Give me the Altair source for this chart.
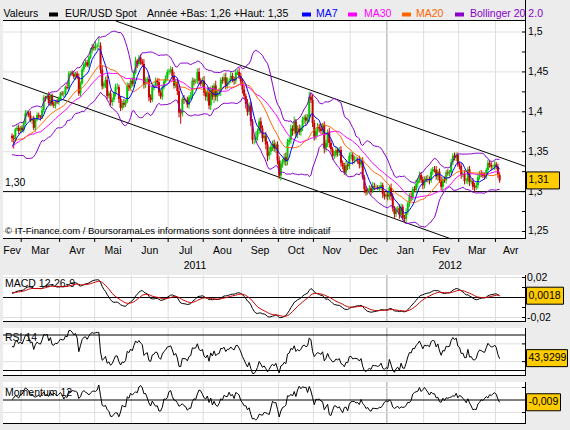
import altair as alt
import numpy as np
import pandas as pd

# ---------------------------------------------------------------------------
# EUR/USD daily closes. The Jan/Feb 2011 lead-in only feeds the moving
# averages and oscillators; drawing starts on Monday 21 Feb 2011.
# ---------------------------------------------------------------------------
CLOSE_LEAD_IN = [
    1.3358, 1.3318, 1.3148, 1.3002, 1.2907, 1.2967, 1.2972, 1.3136, 1.3362, 1.3382,
    1.3310, 1.3390, 1.3460, 1.3530, 1.3610, 1.3620, 1.3680, 1.3710, 1.3740, 1.3590,
    1.3700,
    1.3805, 1.3820, 1.3650, 1.3580, 1.3600, 1.3660, 1.3680, 1.3580, 1.3540, 1.3480,
    1.3500, 1.3550, 1.3590, 1.3700,
]

CLOSE = [
    # Feb 2011
    1.3670, 1.3660, 1.3780, 1.3800, 1.3760, 1.3800,
    # Mar
    1.3770, 1.3860, 1.3980, 1.3990, 1.3960, 1.3890, 1.3910, 1.3800, 1.3900, 1.3960,
    1.3940, 1.3930, 1.4020, 1.4180, 1.4170, 1.4200, 1.4110, 1.4200, 1.4090, 1.4080,
    1.4130, 1.4120, 1.4170,
    # Apr
    1.4230, 1.4220, 1.4220, 1.4310, 1.4300, 1.4480, 1.4490, 1.4470, 1.4440, 1.4480,
    1.4430, 1.4230, 1.4360, 1.4530, 1.4600, 1.4620, 1.4580, 1.4680, 1.4770, 1.4810,
    1.4800,
    # May
    1.4820, 1.4830, 1.4830, 1.4530, 1.4320, 1.4350, 1.4400, 1.4200, 1.4230, 1.4120,
    1.4150, 1.4230, 1.4310, 1.4310, 1.4160, 1.4050, 1.4110, 1.4090, 1.4130, 1.4330,
    1.4300, 1.4390,
    # Jun
    1.4350, 1.4490, 1.4640, 1.4600, 1.4680, 1.4630, 1.4600, 1.4340, 1.4390, 1.4410,
    1.4180, 1.4150, 1.4310, 1.4330, 1.4390, 1.4370, 1.4240, 1.4190, 1.4310, 1.4380,
    1.4420, 1.4500,
    # Jul
    1.4510, 1.4530, 1.4450, 1.4330, 1.4370, 1.4260, 1.3990, 1.3980, 1.4160, 1.4150,
    1.4150, 1.4090, 1.4180, 1.4200, 1.4390, 1.4380, 1.4390, 1.4500, 1.4390, 1.4350,
    1.4390,
    # Aug
    1.4240, 1.4190, 1.4250, 1.4080, 1.4280, 1.4190, 1.4330, 1.4190, 1.4240, 1.4250,
    1.4400, 1.4390, 1.4430, 1.4330, 1.4390, 1.4390, 1.4450, 1.4410, 1.4390, 1.4490,
    1.4500, 1.4450, 1.4380,
    # Sep
    1.4280, 1.4200, 1.4100, 1.4000, 1.4080, 1.3880, 1.3650, 1.3650, 1.3690, 1.3760,
    1.3880, 1.3790, 1.3670, 1.3700, 1.3590, 1.3450, 1.3500, 1.3560, 1.3600, 1.3540,
    1.3590, 1.3390,
    # Oct
    1.3200, 1.3350, 1.3370, 1.3430, 1.3380, 1.3620, 1.3650, 1.3790, 1.3760, 1.3880,
    1.3730, 1.3790, 1.3750, 1.3800, 1.3900, 1.3930, 1.3890, 1.3920, 1.4190, 1.4150,
    1.3860,
    # Nov
    1.3690, 1.3760, 1.3810, 1.3790, 1.3760, 1.3830, 1.3540, 1.3610, 1.3750, 1.3610,
    1.3530, 1.3450, 1.3460, 1.3520, 1.3490, 1.3520, 1.3360, 1.3320, 1.3240, 1.3330,
    1.3320, 1.3450,
    # Dec
    1.3460, 1.3390, 1.3400, 1.3400, 1.3390, 1.3340, 1.3380, 1.3180, 1.3030, 1.2990,
    1.3020, 1.3040, 1.3010, 1.3070, 1.3060, 1.3060, 1.3040, 1.3050, 1.3080, 1.2970,
    1.2940, 1.2960,
    # Jan 2012
    1.2940, 1.3050, 1.2940, 1.2790, 1.2720, 1.2770, 1.2790, 1.2710, 1.2810, 1.2670,
    1.2660, 1.2740, 1.2850, 1.2940, 1.2930, 1.3030, 1.3020, 1.3100, 1.3140, 1.3210,
    1.3150, 1.3080,
    # Feb
    1.3160, 1.3150, 1.3160, 1.3140, 1.3250, 1.3280, 1.3270, 1.3190, 1.3250, 1.3140,
    1.3060, 1.3150, 1.3140, 1.3240, 1.3230, 1.3240, 1.3370, 1.3450, 1.3420, 1.3460,
    1.3340,
    # Mar
    1.3320, 1.3210, 1.3220, 1.3130, 1.3130, 1.3280, 1.3120, 1.3130, 1.3060, 1.3050,
    1.3080, 1.3180, 1.3230, 1.3220, 1.3200, 1.3190, 1.3270, 1.3360, 1.3330, 1.3310,
    1.3310, 1.3340,
    # Apr
    1.3310, 1.3210, 1.3140,
]

# Upper / lower shadows beyond the candle body, in units of 0.001
WICK_UP = [
    3, 4, 2, 3, 4, 2,
    3, 2, 4, 3, 2, 5, 3, 4, 2, 3, 3, 2, 4, 3, 2, 3, 5, 2, 3, 4, 2, 3, 2,
    2, 3, 4, 2, 5, 3, 2, 3, 4, 2, 3, 5, 2, 3, 2, 4, 3, 2, 3, 4, 3,
    6, 3, 11, 4, 5, 3, 4, 6, 3, 4, 3, 2, 4, 5, 3, 4, 3, 5, 2, 4, 3, 2,
    4, 3, 5, 2, 3, 4, 3, 6, 4, 3, 5, 4, 3, 2, 4, 3, 5, 3, 2, 3, 4, 3,
    3, 4, 3, 5, 4, 3, 6, 4, 3, 5, 2, 4, 3, 5, 4, 3, 2, 4, 5, 3, 4,
    6, 4, 5, 6, 4, 5, 3, 6, 4, 5, 3, 4, 5, 6, 4, 3, 5, 4, 3, 4, 3, 5, 4,
    4, 5, 3, 6, 4, 5, 3, 4, 6, 3, 4, 5, 4, 3, 5, 4, 6, 3, 4, 5, 3, 4,
    5, 4, 4, 5, 6, 4, 3, 5, 4, 6, 3, 4, 5, 3, 4, 3, 4, 5, 6, 4, 7,
    4, 3, 5, 4, 6, 3, 5, 4, 3, 5, 4, 3, 5, 4, 3, 4, 5, 3, 4, 6, 3, 4,
    4, 3, 5, 4, 3, 6, 4, 5, 3, 4, 3, 4, 3, 5, 4, 3, 2, 3, 4, 3, 4, 3,
    4, 3, 5, 4, 3, 4, 3, 5, 4, 3, 4, 5, 3, 4, 5, 3, 4, 5, 3, 4, 3, 4,
    3, 4, 5, 3, 4, 3, 4, 5, 3, 4, 5, 3, 4, 3, 4, 3, 4, 3, 4, 3, 3,
    3, 4, 3, 5, 4, 3, 4, 3, 4, 5, 3, 4, 3, 4, 3, 4, 3, 4, 3, 4, 3, 4,
    3, 4, 3,
]
WICK_DN = [
    5, 12, 3, 2, 4, 3,
    2, 3, 2, 4, 3, 2, 4, 3, 5, 2, 3, 4, 2, 3, 4, 2, 3, 4, 2, 3, 4, 2, 3,
    3, 2, 4, 3, 2, 4, 3, 2, 3, 4, 2, 3, 4, 2, 3, 4, 2, 3, 2, 4, 3,
    3, 4, 2, 5, 4, 3, 5, 4, 3, 4, 5, 3, 4, 3, 5, 4, 3, 4, 3, 2, 4, 3,
    3, 4, 2, 5, 3, 4, 3, 5, 4, 3, 5, 4, 3, 4, 3, 5, 4, 3, 4, 3, 2, 3,
    4, 3, 5, 4, 3, 5, 6, 13, 4, 5, 3, 4, 5, 3, 4, 5, 3, 4, 5, 3, 4,
    4, 5, 6, 5, 6, 4, 8, 5, 6, 4, 5, 4, 3, 5, 4, 5, 3, 4, 5, 4, 3, 4, 5,
    5, 4, 6, 5, 4, 6, 5, 6, 4, 5, 4, 6, 5, 4, 6, 7, 5, 4, 5, 4, 6, 5,
    4, 6, 5, 4, 6, 5, 4, 5, 6, 4, 5, 6, 4, 5, 4, 5, 6, 4, 5, 4, 5,
    5, 4, 6, 5, 4, 5, 6, 4, 5, 6, 4, 5, 4, 3, 5, 4, 5, 4, 3, 4, 5, 4,
    4, 5, 4, 3, 4, 5, 4, 3, 5, 4, 3, 4, 5, 3, 4, 3, 2, 4, 3, 5, 4, 3,
    5, 4, 5, 4, 5, 4, 3, 5, 4, 3, 5, 4, 3, 4, 5, 4, 3, 4, 5, 3, 4, 5,
    4, 3, 4, 5, 3, 4, 3, 4, 5, 3, 4, 5, 3, 4, 3, 4, 3, 4, 3, 4, 3,
    4, 5, 3, 4, 3, 4, 5, 3, 4, 5, 3, 4, 3, 4, 3, 4, 3, 4, 3, 4, 3, 4,
    3, 4, 3,
]

MONTHS_FR = ["Jan", "Fev", "Mar", "Avr", "Mai", "Jun",
             "Jul", "Aou", "Sep", "Oct", "Nov", "Dec"]
PRICE_LABELS = [1.25, 1.3, 1.35, 1.4, 1.45, 1.5]
PRICE_MINOR = [1.275, 1.325, 1.375, 1.425, 1.475]
PRICE_GRID = [1.25, 1.35, 1.4, 1.45, 1.5]
PRICE_SUPPORT = [1.30]
MACD_TICKS = [-0.02, -0.01, 0.0, 0.01, 0.02]
MACD_LABELS = [-0.02, 0.02]
MACD_GRID = [-0.02, 0.02]
RSI_BANDS = [30, 70]
RSI_TICKS = [40, 60]
MOM_TICKS = [-0.05, 0.05]
CHANNEL_TOP = {"i": [60.0, 300.0], "p": [1.5154, 1.3371]}
CHANNEL_BOTTOM = {"i": [-5.0, 260.0], "p": [1.4419, 1.2429]}
MACD_LAST = 0.0018
RSI_LAST = 43.9299
MOM_LAST = -0.009

# ---------------------------------------------------------------------------
# layout (pixels) and styling
# ---------------------------------------------------------------------------
W, H = 570, 430
PLOT_L, PLOT_R = 3, 526
AXIS_X = 525.5
MAIN = (21, 239)
MACD_P = (275, 322)
RSI_P = (328, 375.5)
MOM_P = (382, 424)

X_DOMAIN = [-5.4, 307.8]
P_DOMAIN = [1.2406, 1.5138]
MACD_DOMAIN = [-0.0245, 0.0225]
RSI_DOMAIN = [24.37, 77.89]
MOM_DOMAIN = [-0.096, 0.072]

FONT = "Liberation Sans"
FS = 10.5
BG = "#ECECEC"
GRID = "#DEDEDE"
YEAR_LINE = "#A0A0A0"
UP = "#00C800"
DOWN = "#CC0000"
C_MA7 = "#0000FF"
C_MA30 = "#FF00FF"
C_MA20 = "#FF6600"
C_BOLL = "#8800CC"
GOLD = "#FFCC00"

# ---------------------------------------------------------------------------
# indicators
# ---------------------------------------------------------------------------
close = pd.Series(CLOSE_LEAD_IN + CLOSE, dtype=float)
full = pd.DataFrame({"date": pd.bdate_range("2011-01-03", periods=len(close)),
                     "close": close})
full["open"] = full["close"].shift(1).fillna(full["close"])
full["ma7"] = full["close"].rolling(7, min_periods=1).mean()
full["ma20"] = full["close"].rolling(20, min_periods=1).mean()
full["ma30"] = full["close"].rolling(30, min_periods=1).mean()
sd20 = full["close"].rolling(20, min_periods=2).std(ddof=0)
full["bb_hi"] = full["ma20"] + 2 * sd20
full["bb_lo"] = full["ma20"] - 2 * sd20
ema12 = full["close"].ewm(span=12, adjust=False).mean()
ema26 = full["close"].ewm(span=26, adjust=False).mean()
full["macd"] = ema12 - ema26
full["signal"] = full["macd"].ewm(span=9, adjust=False).mean()
delta = full["close"].diff().fillna(0)
gain = delta.clip(lower=0).ewm(alpha=1 / 14, adjust=False).mean()
loss = (-delta.clip(upper=0)).ewm(alpha=1 / 14, adjust=False).mean()
full["rsi"] = 100 - 100 / (1 + gain / loss)
full["mom"] = full["close"] - full["close"].shift(12)

df = full.iloc[len(CLOSE_LEAD_IN):].reset_index(drop=True)
df["i"] = np.arange(len(df))
df["high"] = np.maximum(df["open"], df["close"]) + np.array(WICK_UP) / 1000
df["low"] = np.minimum(df["open"], df["close"]) - np.array(WICK_DN) / 1000
ups = df[df["close"] >= df["open"]]
downs = df[df["close"] < df["open"]]

# month cells, month boundaries and year spans
ym = df["date"].dt.year * 100 + df["date"].dt.month
starts = df.groupby(ym)["i"].min()
keys = list(starts.index)
edges = np.concatenate([[X_DOMAIN[0]], starts.values[1:] - 0.5, [X_DOMAIN[1]]])
months = pd.DataFrame({"label": [MONTHS_FR[k % 100 - 1] for k in keys],
                       "pos": (edges[:-1] + edges[1:]) / 2})
bounds = pd.DataFrame({"b": starts.values[1:] - 0.5,
                       "jan": [k % 100 == 1 for k in keys[1:]]})
month_bounds = bounds[~bounds["jan"]]
year_bounds = bounds[bounds["jan"]]
years = []
yr = df["date"].dt.year
ylist = sorted(yr.unique())
for n, y in enumerate(ylist):
    g = df[yr == y]
    lo = X_DOMAIN[0] if n == 0 else g["i"].min() - 0.5
    hi = g["i"].max() + 0.5
    if n == len(ylist) - 1:
        hi = (hi + X_DOMAIN[1]) / 2
    years.append({"label": str(y), "pos": (lo + hi) / 2})
years = pd.DataFrame(years)

last_year = df[yr == ylist[-1]]
legend_range = "Année +Bas: {} +Haut: {}".format(
    f"{last_year['low'].min():.2f}".replace(".", ","),
    f"{last_year['high'].max():.2f}".replace(".", ","))


def fr(v, fmt="g"):
    return format(v, fmt).replace(".", ",")


def channel(anchor):
    i0, i1 = anchor["i"]
    p0, p1 = anchor["p"]
    s = (p1 - p0) / (i1 - i0)
    at = lambda x: p0 + s * (x - i0)
    inv = lambda p: i0 + (p - p0) / s
    a = max(X_DOMAIN[0], inv(P_DOMAIN[1]))
    b = min(X_DOMAIN[1], inv(P_DOMAIN[0]))
    return pd.DataFrame({"i": [a, b], "p": [at(a), at(b)]})


# ---------------------------------------------------------------------------
# scales and small helpers
# ---------------------------------------------------------------------------
XS = alt.Scale(domain=X_DOMAIN, range=[PLOT_L, PLOT_R], nice=False, zero=False)


def yscale(dom, panel):
    return alt.Scale(domain=dom, range=[panel[1], panel[0]], nice=False,
                     zero=False, clamp=True)


YP = yscale(P_DOMAIN, MAIN)
YM = yscale(MACD_DOMAIN, MACD_P)
YR = yscale(RSI_DOMAIN, RSI_P)
YO = yscale(MOM_DOMAIN, MOM_P)

ONE = pd.DataFrame({"k": [0]})
X_I = alt.X("i:Q", scale=XS, axis=None)


def rect(x1, x2, y1, y2, fill):
    return alt.Chart(ONE).mark_rect(fill=fill).encode(
        x=alt.value(x1), x2=alt.value(x2), y=alt.value(y1), y2=alt.value(y2))


def hrule(y, x1, x2, color="black"):
    return alt.Chart(ONE).mark_rule(color=color, strokeWidth=1).encode(
        x=alt.value(x1), x2=alt.value(x2), y=alt.value(y))


def vrule(x, y1, y2, color="black"):
    return alt.Chart(ONE).mark_rule(color=color, strokeWidth=1).encode(
        x=alt.value(x), y=alt.value(y1), y2=alt.value(y2))


def text(t, x, y, align="left", color="black", size=FS):
    return alt.Chart(ONE).mark_text(
        text=t, align=align, baseline="middle", font=FONT, fontSize=size,
        color=color).encode(x=alt.value(x), y=alt.value(y))


def level_lines(values, ys, color):
    d = pd.DataFrame({"v": values})
    return alt.Chart(d).mark_rule(color=color, strokeWidth=1).encode(
        y=alt.Y("v:Q", scale=ys, axis=None),
        x=alt.value(PLOT_L), x2=alt.value(PLOT_R))


def ticks(values, ys):
    d = pd.DataFrame({"v": values})
    return alt.Chart(d).mark_rule(color="black", strokeWidth=1).encode(
        y=alt.Y("v:Q", scale=ys, axis=None),
        x=alt.value(AXIS_X - 3.5), x2=alt.value(AXIS_X))


def tick_labels(values, ys, x=528):
    d = pd.DataFrame({"v": values, "t": [fr(v) for v in values]})
    return alt.Chart(d).mark_text(
        align="left", baseline="middle", font=FONT, fontSize=FS,
        color="black").encode(
        y=alt.Y("v:Q", scale=ys, axis=None), x=alt.value(x), text="t:N")


def series(col, ys, color, width=1.0):
    return alt.Chart(df).mark_line(color=color, strokeWidth=width).encode(
        x=X_I, y=alt.Y(f"{col}:Q", scale=ys, axis=None))


def value_box(v, t, ys, dom, panel, right):
    ppu = (panel[1] - panel[0]) / (dom[1] - dom[0])
    half = 8.5 / ppu
    d = pd.DataFrame({"v": [v], "lo": [v - half], "hi": [v + half], "t": [t]})
    box = alt.Chart(d).mark_rect(fill=GOLD, stroke="black", strokeWidth=1).encode(
        x=alt.value(526.5), x2=alt.value(right),
        y=alt.Y("lo:Q", scale=ys, axis=None), y2="hi:Q")
    lab = alt.Chart(d).mark_text(
        align="left", baseline="middle", font=FONT, fontSize=FS,
        color="black").encode(
        x=alt.value(528.5), y=alt.Y("v:Q", scale=ys, axis=None), text="t:N")
    return [box, lab]


layers = []

# panel backgrounds and month / year separators
for top, bot in (MAIN, MACD_P, RSI_P, MOM_P):
    layers.append(rect(PLOT_L, PLOT_R, top, bot, "white"))
    layers.append(alt.Chart(month_bounds).mark_rule(color=GRID, strokeWidth=1).encode(
        x=alt.X("b:Q", scale=XS, axis=None), y=alt.value(top), y2=alt.value(bot)))
    layers.append(alt.Chart(year_bounds).mark_rule(color=YEAR_LINE, strokeWidth=1).encode(
        x=alt.X("b:Q", scale=XS, axis=None), y=alt.value(top), y2=alt.value(bot)))

# ---- price panel ----
layers.append(level_lines(PRICE_GRID, YP, GRID))
layers.append(level_lines(PRICE_SUPPORT, YP, "black"))
layers.append(text("1,30", 5, 183))
layers.append(text("© IT-Finance.com / BoursoramaLes informations sont données à titre indicatif",
                   5, 231, size=9.5))
for anchor in (CHANNEL_TOP, CHANNEL_BOTTOM):
    layers.append(alt.Chart(channel(anchor)).mark_line(color="black", strokeWidth=1).encode(
        x=X_I, y=alt.Y("p:Q", scale=YP, axis=None)))

for part, col in ((ups, UP), (downs, DOWN)):
    layers.append(alt.Chart(part).mark_rule(color=col, strokeWidth=1).encode(
        x=X_I, y=alt.Y("low:Q", scale=YP, axis=None), y2="high:Q"))
    layers.append(alt.Chart(part).mark_rule(color=col, strokeWidth=2).encode(
        x=X_I, y=alt.Y("open:Q", scale=YP, axis=None), y2="close:Q"))

layers.append(series("bb_hi", YP, C_BOLL))
layers.append(series("bb_lo", YP, C_BOLL))
layers.append(series("ma30", YP, C_MA30))
layers.append(series("ma20", YP, C_MA20))
layers.append(series("ma7", YP, C_MA7))

# frame, right axis and month axis
layers.append(hrule(MAIN[0] - 0.5, PLOT_L, PLOT_R))
layers.append(hrule(MAIN[1] - 0.5, PLOT_L, PLOT_R))
layers.append(vrule(AXIS_X, 0, MAIN[1]))
layers.append(ticks(PRICE_LABELS + PRICE_MINOR, YP))
layers.append(tick_labels(PRICE_LABELS, YP))
layers.append(alt.Chart(bounds).mark_rule(color="black", strokeWidth=1).encode(
    x=alt.X("b:Q", scale=XS, axis=None), y=alt.value(MAIN[1]), y2=alt.value(MAIN[1] + 3)))
layers.append(alt.Chart(months).mark_text(
    align="center", baseline="middle", font=FONT, fontSize=FS, color="black").encode(
    x=alt.X("pos:Q", scale=XS, axis=None), y=alt.value(251), text="label:N"))
layers.append(alt.Chart(years).mark_text(
    align="center", baseline="middle", font=FONT, fontSize=FS, color="black").encode(
    x=alt.X("pos:Q", scale=XS, axis=None), y=alt.value(266), text="label:N"))

# legend row
layers.append(text("Valeurs", 3.5, 14))
legend_items = [
    (49, "black", "EUR/USD Spot", "black", 65),
    (302, C_MA7, "MA7", C_MA7, 316),
    (348, C_MA30, "MA30", C_MA30, 364),
    (402, C_MA20, "MA20", C_MA20, 416),
    (455, C_BOLL, "Bollinger 20 2.0", C_BOLL, 470),
]
for sx, scol, lab, tcol, tx in legend_items:
    layers.append(rect(sx, sx + 9, 12.5, 16.5, scol))
    layers.append(text(lab, tx, 14, color=tcol))
layers.append(text(legend_range, 147, 14))

# ---- MACD panel ----
layers.append(level_lines(MACD_GRID, YM, GRID))
layers.append(text("MACD 12-26-9", 5, 284))
layers.append(level_lines([0.0], YM, "black"))
layers.append(series("macd", YM, "black"))
layers.append(series("signal", YM, DOWN))
layers.append(hrule(MACD_P[1] - 0.5, PLOT_L, PLOT_R))
layers.append(vrule(AXIS_X, MACD_P[0], MACD_P[1]))
layers.append(ticks(MACD_TICKS, YM))
layers.append(tick_labels(MACD_LABELS, YM, x=527))

# ---- RSI panel ----
layers.append(level_lines(RSI_TICKS, YR, GRID))
layers.append(text("RSI 14", 5, 338))
layers.append(level_lines(RSI_BANDS, YR, "black"))
layers.append(series("rsi", YR, "black"))
layers.append(hrule(RSI_P[1], PLOT_L, PLOT_R))
layers.append(vrule(AXIS_X, RSI_P[0], RSI_P[1]))
layers.append(ticks(RSI_TICKS, YR))

# ---- Momentum panel ----
layers.append(level_lines(MOM_TICKS, YO, GRID))
layers.append(text("Momentum 12", 5, 393))
layers.append(level_lines([0.0], YO, "black"))
layers.append(series("mom", YO, "black"))
layers.append(hrule(MOM_P[1] - 0.5, PLOT_L, PLOT_R))
layers.append(vrule(AXIS_X, MOM_P[0], MOM_P[1]))
layers.append(ticks(MOM_TICKS, YO))

# ---- last-value boxes ----
last_close = float(df["close"].iloc[-1])
layers += value_box(last_close, fr(last_close, ".2f"), YP, P_DOMAIN, MAIN, 559.5)
layers += value_box(MACD_LAST, fr(MACD_LAST), YM, MACD_DOMAIN, MACD_P, 563.5)
layers += value_box(RSI_LAST, fr(RSI_LAST), YR, RSI_DOMAIN, RSI_P, 567.5)
layers += value_box(MOM_LAST, fr(MOM_LAST), YO, MOM_DOMAIN, MOM_P, 560.5)

chart = (
    alt.layer(*layers)
    .resolve_scale(y="independent")
    .properties(width=W, height=H, padding=0, background=BG,
                autosize=alt.AutoSizeParams(type="none"))
    .configure_view(strokeWidth=0)
)

chart.save("out.html", embed_options={"renderer": "svg", "actions": False})
